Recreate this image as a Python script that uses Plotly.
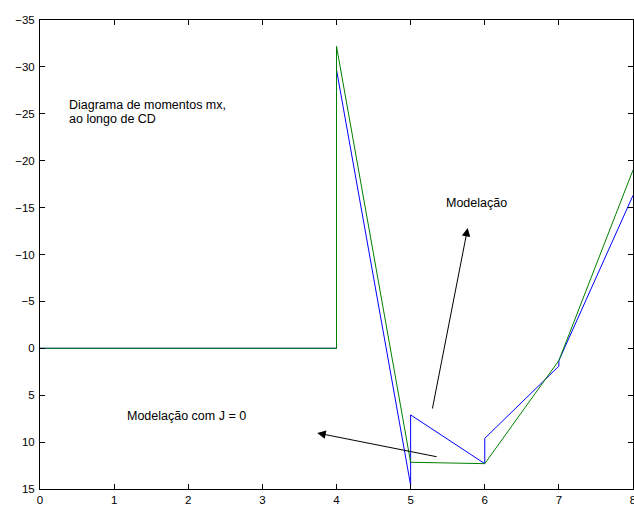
import plotly.graph_objects as go

# Data
x_blue = [0, 4, 4, 5, 5, 6, 6, 7, 7, 8]
y_blue = [0, 0, -29.7, 14.6, 7.1, 12.3, 9.6, 1.9, 1.3, -16.3]

x_green = [0, 4, 4, 5, 6, 7, 8]
y_green = [0, 0, -32.2, 12.15, 12.3, 1.3, -19.0]

x_ticks = [0, 1, 2, 3, 4, 5, 6, 7, 8]
y_ticks = [-35, -30, -25, -20, -15, -10, -5, 0, 5, 10, 15]

label_title_1 = "Diagrama de momentos mx,"
label_title_2 = "ao longo de CD"
label_mod = "Modelação"
label_mod_j0 = "Modelação com J = 0"

fig = go.Figure()
fig.add_trace(go.Scatter(x=x_blue, y=y_blue, mode="lines",
                         line=dict(color="#0000ff", width=1), showlegend=False))
fig.add_trace(go.Scatter(x=x_green, y=y_green, mode="lines",
                         line=dict(color="#008000", width=1), showlegend=False))

font_txt = dict(family="Liberation Sans, Arial, sans-serif", size=12.5, color="black")

annotations = [
    dict(x=0.37, y=-25.9, text=label_title_1, xanchor="left", yanchor="middle", showarrow=False, font=font_txt),
    dict(x=0.37, y=-24.4, text=label_title_2, xanchor="left", yanchor="middle", showarrow=False, font=font_txt),
    dict(x=5.45, y=-15.5, text=label_mod, xanchor="left", yanchor="middle", showarrow=False, font=font_txt),
    dict(x=1.15, y=7.25, text=label_mod_j0, xanchor="left", yanchor="middle", showarrow=False, font=font_txt),
    dict(x=5.77, y=-12.83, ax=5.29, ay=6.58, axref="x", ayref="y", text="", showarrow=True,
         arrowhead=2, arrowsize=1.7, arrowwidth=1, arrowcolor="black"),
    dict(x=3.74, y=9.03, ax=5.37, ay=11.59, axref="x", ayref="y", text="", showarrow=True,
         arrowhead=2, arrowsize=1.7, arrowwidth=1, arrowcolor="black"),
]

tickfont = dict(family="Liberation Sans, Arial, sans-serif", size=11.5, color="black")

fig.update_layout(
    width=634, height=507,
    margin=dict(l=40, r=1, t=20, b=18, autoexpand=False),
    paper_bgcolor="white", plot_bgcolor="white",
    annotations=annotations,
    xaxis=dict(range=[0, 8], tickvals=x_ticks, ticks="inside", ticklen=5, tickcolor="black",
               showline=True, linecolor="black", linewidth=1, mirror="ticks", automargin=False,
               showgrid=False, zeroline=False, tickfont=tickfont, ticklabeloverflow="allow"),
    yaxis=dict(range=[15, -35], tickvals=y_ticks, ticks="inside", ticklen=5, tickcolor="black",
               showline=True, linecolor="black", linewidth=1, mirror="ticks", automargin=False,
               showgrid=False, zeroline=False, tickfont=tickfont, ticklabelstandoff=2,
               ticklabeloverflow="allow"),
)

fig.write_html("out.html", config={"displayModeBar": False},
               post_script="document.body.style.margin='0';document.body.style.overflow='hidden';")
